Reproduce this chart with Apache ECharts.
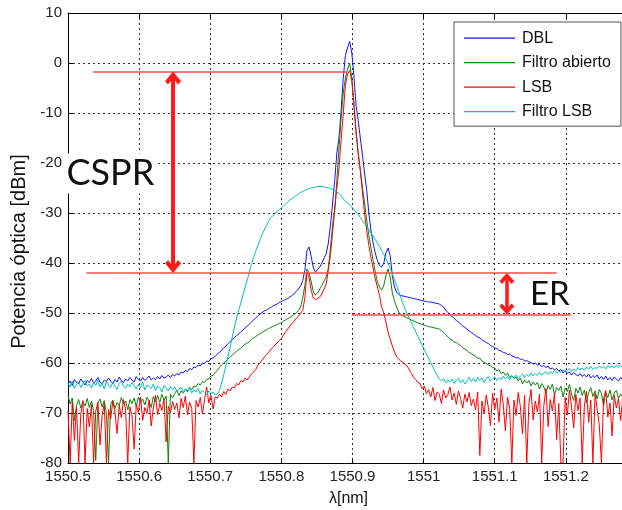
<!DOCTYPE html>
<html><head><meta charset="utf-8">
<script src="https://cdn.jsdelivr.net/npm/echarts/dist/echarts.min.js"></script>
<style>html,body{margin:0;padding:0;background:#fff}#c{width:622px;height:510px}</style>
</head><body><div id="c"></div><script>
// Sampling grid of the optical spectrum analyser trace (nm)
const lambdaStart = 1550.5;
const lambdaStep = 0.003;
const xTickMin = 1550.5, xTickMax = 1551.3, xTickStep = 0.1;
const yTickMin = -80, yTickMax = 10, yTickStep = 10;
const seriesNames = ['DBL', 'Filtro abierto', 'LSB', 'Filtro LSB'];

const dbl = [
-64.2,-63.6,-64.5,-63.3,-63.9,-64.1,-63.2,-63.8,-64.4,-63.5,
-63.9,-63.1,-64.0,-63.6,-62.9,-63.8,-64.2,-63.4,-63.7,-63.0,
-63.6,-64.1,-63.3,-63.8,-62.8,-63.5,-63.9,-63.2,-63.6,-62.9,
-63.4,-63.8,-62.7,-63.3,-63.6,-62.9,-63.5,-63.1,-62.6,-63.4,
-63.0,-63.3,-62.7,-63.2,-62.5,-63.0,-62.8,-62.4,-62.9,-62.3,
-62.6,-62.1,-62.4,-61.8,-62.0,-61.5,-61.7,-61.1,-61.3,-60.8,
-60.9,-60.4,-60.6,-60.0,-60.1,-59.6,-59.7,-59.1,-59.0,-58.6,
-58.2,-57.9,-57.4,-57.0,-56.6,-56.1,-55.7,-55.3,-54.9,-54.5,
-54.2,-53.8,-53.4,-53.0,-52.6,-52.2,-51.8,-51.4,-51.0,-50.6,
-50.2,-49.9,-49.6,-49.4,-49.1,-48.9,-48.6,-48.4,-48.2,-47.9,
-47.7,-47.5,-47.3,-47.1,-46.8,-46.5,-46.1,-45.7,-45.2,-44.6,
-43.5,-41.5,-37.5,-36.8,-38.8,-41.0,-41.8,-41.3,-40.8,-40.0,
-39.0,-38.2,-36.0,-32.5,-28.0,-23.5,-18.0,-15.0,-9.5,-3.0,
1.5,3.0,4.3,2.0,-2.5,-8.5,-11.5,-15.0,-18.5,-22.0,
-25.5,-30.0,-33.5,-36.0,-38.0,-39.5,-40.5,-40.8,-40.0,-38.0,
-37.0,-38.5,-42.5,-44.8,-45.8,-46.3,-46.5,-46.6,-46.7,-46.8,
-46.9,-47.0,-47.1,-47.2,-47.3,-47.4,-47.5,-47.6,-47.7,-47.8,
-47.8,-47.9,-48.0,-48.1,-48.2,-48.5,-48.8,-49.4,-49.9,-50.3,
-50.7,-51.1,-51.5,-51.8,-52.2,-52.6,-52.9,-53.2,-53.6,-53.9,
-54.2,-54.5,-54.8,-55.0,-55.4,-55.6,-55.9,-56.1,-56.5,-56.7,
-57.0,-57.1,-57.5,-57.6,-57.9,-58.0,-58.3,-58.2,-58.6,-58.7,
-59.0,-58.9,-59.3,-59.2,-59.6,-59.5,-59.8,-59.9,-60.2,-60.0,
-60.4,-60.3,-60.7,-60.5,-60.9,-60.6,-61.2,-61.0,-61.4,-61.1,
-61.6,-61.3,-62.0,-61.5,-62.1,-61.8,-62.4,-61.9,-62.3,-62.6,
-62.1,-62.7,-62.3,-62.8,-62.2,-63.0,-62.5,-62.9,-62.4,-63.2,
-62.7,-63.3,-62.6,-63.4,-62.9,-63.5,-62.8,-63.2,-63.6,-62.9,-63.4
];

const filtroAbierto = [
-66.5,-68.2,-67.0,-71.5,-68.5,-67.3,-69.0,-67.8,-68.6,-67.1,
-68.9,-67.6,-69.5,-79.5,-68.0,-67.2,-68.8,-67.5,-70.2,-80.0,
-68.3,-67.4,-69.1,-67.9,-68.5,-66.9,-68.2,-67.6,-69.4,-67.3,
-68.1,-67.0,-68.7,-66.8,-67.9,-67.2,-68.4,-66.9,-67.6,-68.9,
-66.7,-67.8,-66.5,-67.9,-66.3,-67.4,-66.6,-80.0,-66.2,-67.0,
-66.1,-65.4,-66.5,-65.6,-66.0,-65.2,-65.8,-64.9,-65.3,-64.6,
-64.8,-64.1,-64.4,-63.7,-63.9,-63.3,-63.2,-62.6,-62.5,-61.9,
-61.5,-60.9,-60.4,-60.0,-59.6,-59.2,-58.8,-58.4,-58.1,-57.6,
-57.3,-57.0,-56.6,-56.3,-56.0,-55.7,-55.3,-55.0,-54.7,-54.4,
-54.1,-53.9,-53.6,-53.4,-53.1,-52.9,-52.7,-52.5,-52.3,-52.1,
-51.9,-51.6,-51.4,-51.1,-50.9,-50.6,-50.3,-50.0,-49.5,-48.8,
-47.0,-44.5,-41.2,-42.0,-43.8,-45.8,-46.4,-46.0,-45.2,-44.5,
-43.6,-42.8,-41.0,-38.5,-34.0,-29.5,-23.5,-17.0,-11.0,-6.0,
-3.0,-1.2,0.0,-3.0,-8.0,-13.5,-18.1,-21.5,-24.8,-28.0,
-31.5,-34.5,-37.0,-39.5,-41.8,-43.8,-44.8,-45.4,-44.5,-42.5,
-41.2,-42.8,-46.0,-47.6,-48.8,-49.8,-50.3,-50.6,-50.8,-51.0,
-51.2,-51.4,-51.6,-51.8,-52.0,-52.1,-52.3,-52.4,-52.6,-52.7,
-52.8,-52.9,-53.0,-53.1,-53.2,-53.5,-53.9,-54.3,-54.8,-55.2,
-55.4,-55.8,-55.9,-56.3,-56.5,-56.9,-57.2,-57.5,-57.9,-58.1,
-58.4,-58.6,-59.1,-59.0,-59.6,-59.8,-60.1,-60.4,-60.6,-60.9,
-61.0,-61.6,-61.3,-62.1,-61.8,-62.5,-62.0,-62.9,-62.6,-63.1,
-62.8,-63.6,-63.0,-64.2,-63.4,-64.0,-63.5,-64.6,-63.8,-64.4,
-63.9,-65.2,-64.1,-64.8,-66.0,-64.5,-65.3,-64.2,-66.4,-64.9,
-65.5,-64.6,-66.8,-65.0,-65.7,-64.3,-66.2,-67.5,-65.1,-66.0,
-64.8,-66.5,-65.4,-68.0,-65.9,-64.9,-66.7,-65.6,-67.2,-65.3,
-66.1,-68.6,-65.8,-66.9,-65.4,-67.4,-66.0,-65.5,-67.0,-66.2,-66.8
];

const lsb = [
-69.5,-80.0,-67.8,-75.5,-68.9,-80.0,-70.2,-67.5,-80.0,-69.1,
-72.8,-68.3,-80.0,-69.6,-67.9,-76.4,-70.5,-68.1,-80.0,-69.3,
-71.2,-67.6,-69.8,-74.1,-68.5,-70.9,-67.3,-69.4,-80.0,-68.8,
-70.6,-77.2,-68.2,-69.9,-66.8,-71.5,-68.9,-70.1,-67.4,-72.6,
-69.0,-66.5,-70.3,-68.1,-69.5,-67.2,-75.8,-68.6,-70.0,-67.7,
-69.3,-68.0,-71.0,-67.1,-68.9,-66.6,-70.4,-67.8,-69.1,-80.0,
-67.5,-68.8,-66.9,-70.2,-67.3,-64.8,-68.0,-66.5,-69.2,-66.8,
-67.0,-66.2,-66.8,-65.7,-66.3,-65.2,-65.6,-64.8,-65.0,-64.1,
-64.4,-63.5,-63.8,-63.0,-63.4,-62.8,-62.2,-61.8,-61.3,-60.4,
-60.0,-59.4,-58.9,-58.3,-57.9,-57.4,-56.9,-56.4,-56.0,-55.5,
-55.1,-54.4,-53.8,-53.2,-52.6,-52.1,-51.6,-51.1,-50.6,-50.1,
-49.5,-47.0,-41.8,-43.0,-45.5,-47.0,-47.3,-47.1,-46.8,-46.2,
-45.2,-44.2,-41.5,-37.0,-32.5,-29.0,-25.0,-21.0,-15.5,-10.1,
-4.5,-2.2,-1.5,-3.5,-8.5,-14.0,-18.0,-21.5,-26.0,-30.1,
-33.5,-36.5,-39.0,-41.0,-43.2,-44.8,-46.5,-48.8,-50.0,-51.8,
-53.8,-55.2,-56.6,-57.8,-58.8,-59.2,-59.6,-59.9,-60.3,-60.6,
-61.4,-62.1,-62.9,-63.3,-63.9,-64.1,-65.2,-64.6,-66.1,-65.3,
-66.8,-64.9,-67.5,-65.8,-66.2,-68.1,-65.4,-67.0,-66.3,-64.8,
-67.4,-66.0,-68.3,-65.6,-67.1,-69.0,-66.2,-67.8,-65.9,-68.5,
-67.2,-69.4,-65.8,-78.5,-67.6,-70.2,-66.4,-68.9,-72.5,-66.1,
-69.3,-67.0,-71.8,-65.2,-68.4,-73.6,-66.8,-69.1,-80.0,-67.4,
-70.5,-65.9,-68.7,-74.2,-66.5,-80.0,-68.2,-65.3,-71.4,-67.6,
-69.8,-66.2,-80.0,-68.5,-65.1,-72.7,-67.3,-69.6,-66.0,-75.3,
-68.1,-80.0,-80.0,-66.9,-70.4,-65.4,-68.8,-73.0,-66.3,-69.5,
-67.0,-80.0,-68.6,-65.7,-71.9,-67.4,-80.0,-66.1,-69.2,-72.4,
-80.0,-67.2,-65.5,-70.8,-68.0,-74.6,-66.4,-69.0,-67.1,-71.5,-66.8
];

const filtroLsb = [
-64.0,-64.8,-63.6,-65.1,-64.3,-63.8,-64.9,-64.1,-63.5,-64.6,
-64.2,-65.0,-63.9,-64.5,-63.4,-64.8,-64.0,-65.2,-63.7,-64.4,
-64.9,-63.8,-64.6,-65.3,-64.1,-63.6,-64.7,-65.0,-64.2,-64.8,
-63.9,-64.5,-65.2,-64.3,-64.9,-63.8,-65.4,-64.4,-64.7,-65.1,
-64.2,-65.5,-64.6,-64.9,-65.8,-64.5,-65.0,-65.6,-64.7,-65.3,
-64.8,-65.7,-65.1,-64.9,-65.9,-65.2,-65.6,-64.9,-66.0,-65.3,
-65.8,-65.1,-66.2,-65.5,-65.9,-66.3,-65.6,-66.1,-65.8,-66.4,
-66.2,-65.5,-64.0,-62.3,-60.5,-58.7,-56.8,-54.8,-52.8,-51.0,
-49.4,-48.0,-46.4,-44.9,-43.4,-41.8,-40.3,-38.9,-37.6,-36.5,
-35.3,-34.3,-33.4,-32.5,-31.7,-31.0,-30.6,-30.1,-29.7,-29.3,
-29.0,-28.6,-28.2,-27.8,-27.4,-27.1,-26.8,-26.5,-26.2,-25.9,
-25.7,-25.5,-25.3,-25.1,-25.0,-24.9,-24.8,-24.7,-24.7,-24.7,
-24.8,-24.9,-25.0,-25.1,-25.3,-25.5,-25.8,-26.1,-26.5,-27.2,
-27.6,-28.0,-28.4,-28.8,-29.3,-29.8,-30.3,-30.9,-31.5,-32.1,
-32.7,-33.3,-34.0,-34.6,-35.3,-36.0,-36.7,-37.5,-38.3,-39.2,
-40.1,-41.1,-42.2,-43.3,-44.5,-45.7,-46.9,-48.1,-49.2,-50.2,
-51.1,-52.0,-52.9,-53.8,-54.7,-55.6,-56.4,-57.3,-58.2,-59.0,
-59.9,-60.8,-61.7,-62.5,-63.2,-63.6,-63.1,-64.0,-63.4,-63.8,
-63.2,-64.1,-63.5,-63.0,-63.9,-63.3,-64.2,-63.6,-62.9,-63.7,
-63.1,-63.8,-62.8,-63.5,-63.0,-63.9,-63.2,-62.7,-63.6,-63.1,
-62.8,-63.5,-62.9,-63.3,-62.6,-63.2,-62.7,-63.4,-62.5,-63.0,
-62.4,-63.1,-62.6,-62.2,-62.9,-62.3,-62.7,-62.0,-62.6,-62.1,
-62.5,-61.9,-62.4,-62.0,-61.7,-62.3,-61.8,-62.1,-61.5,-62.0,
-61.6,-61.9,-61.3,-61.8,-61.5,-61.1,-61.7,-61.2,-61.6,-60.9,
-61.4,-61.0,-61.5,-60.8,-61.2,-60.7,-61.3,-60.9,-61.1,-60.6,
-61.0,-60.7,-61.2,-60.5,-60.9,-60.6,-61.0,-60.4,-60.8,-60.5,-60.9
];

// Annotations (data coordinates: wavelength nm, power dBm)
const refLevelCarrier = -1.7, refLevelSideband = -42, refLevelER = -50.3;
const refLines = [
  [1550.535, 1550.892, refLevelCarrier],
  [1550.526, 1551.187, refLevelSideband],
  [1550.900, 1551.207, refLevelER]
];
const cspr = { x: 1550.6477, top: refLevelCarrier, bottom: refLevelSideband };
const er = { x: 1551.117, top: refLevelSideband, bottom: refLevelER };
const textNotes = [
  { text: 'CSPR', x: 1550.5610, y: -22.1 },
  { text: 'ER', x: 1551.1789, y: -46.2 }
];

const colors = ['#1212ff', '#0b840b', '#ff0000', '#00bfbf'];
const chevron = 'path://M8,0 L16,9 L13,12 L8,6 L3,12 L0,9 Z';

function toPairs(arr) {
  return arr.map((v, i) => [+(lambdaStart + i * lambdaStep).toFixed(3), v]);
}

const chart = echarts.init(document.getElementById('c'), null, { renderer: 'canvas' });
const labelFont = 'Liberation Sans, Arial, sans-serif';
const gridLine = { show: true, lineStyle: { color: '#333', type: [2, 3], width: 1 } };

const arrowLine = (a, w, head, off) => [
  { coord: [a.x, a.top - off], symbol: chevron, symbolSize: head, lineStyle: { color: '#ff1a1a', width: w, type: 'solid' } },
  { coord: [a.x, a.bottom + off], symbol: chevron, symbolSize: head }
];

const series = [dbl, filtroAbierto, lsb, filtroLsb].map((arr, k) => ({
  name: seriesNames[k], type: 'line', data: toPairs(arr), symbol: 'none', showSymbol: false,
  lineStyle: { width: 1, color: colors[k] }, itemStyle: { color: colors[k] },
  animation: false, silent: true
}));

series[3].markLine = {
  silent: true, animation: false, symbol: 'none', label: { show: false },
  data: refLines.map(r => [
    { coord: [r[0], r[2]], lineStyle: { color: '#ff4a4a', width: 1.5, type: 'solid' } },
    { coord: [r[1], r[2]] }
  ]).concat([arrowLine(cspr, 4, [16, 13], 1.3), arrowLine(er, 3.5, [15, 11], 1.1)])
};
series[3].markPoint = {
  silent: true, animation: false, symbol: 'rect', symbolSize: 1, itemStyle: { color: 'rgba(0,0,0,0)' },
  data: textNotes.map((t, i) => ({
    coord: [t.x, t.y], value: t.text,
    label: {
      show: true, position: 'inside', formatter: t.text, color: '#111',
      fontFamily: 'Lato, Open Sans, sans-serif', fontSize: i === 0 ? 36 : 33,
      backgroundColor: '#fff', padding: [2, 2, 2, 0]
    }
  }))
};

chart.setOption({
  animation: false,
  backgroundColor: '#fff',
  grid: { left: 68, top: 13, width: 569, height: 450, containLabel: false, outerBoundsMode: 'none' },
  legend: {
    data: seriesNames, orient: 'vertical', left: 454, top: 22, icon: 'rect',
    itemWidth: 51, itemHeight: 1.3, itemGap: 8.5, padding: [8.2, 10, 6.5, 10],
    borderColor: '#555', borderWidth: 1, backgroundColor: '#fff', selectedMode: false,
    textStyle: { fontSize: 16, lineHeight: 16, fontFamily: labelFont, color: '#111', padding: [0, 0, 0, 2] }
  },
  xAxis: [{
    type: 'value', min: xTickMin, max: xTickMax, interval: xTickStep,
    name: 'λ[nm]', nameLocation: 'middle', nameGap: 28,
    nameTextStyle: { fontSize: 16, fontFamily: labelFont, color: '#111', padding: [0, 8, 0, 0] },
    axisLine: { show: true, onZero: false, lineStyle: { color: '#000', width: 1 } },
    axisTick: { show: true, inside: true, length: 5, lineStyle: { color: '#000' } },
    axisLabel: {
      fontSize: 15, fontFamily: labelFont, color: '#222', margin: 6,
      formatter: v => (v > 1551.25 ? '' : String(parseFloat(v.toFixed(1))))
    },
    splitLine: gridLine
  }, {
    type: 'value', position: 'top', min: xTickMin, max: xTickMax, interval: xTickStep,
    axisLine: { show: true, onZero: false, lineStyle: { color: '#000', width: 1 } },
    axisTick: { show: true, inside: true, length: 5, lineStyle: { color: '#000' } },
    axisLabel: { show: false }, splitLine: { show: false }
  }],
  yAxis: {
    type: 'value', min: yTickMin, max: yTickMax, interval: yTickStep,
    name: 'Potencia óptica [dBm]', nameLocation: 'middle', nameGap: 25, nameRotate: 90,
    nameTextStyle: { fontSize: 20, fontFamily: labelFont, color: '#111', padding: [0, 27, 0, 0] },
    axisLine: { show: true, onZero: false, lineStyle: { color: '#000', width: 1 } },
    axisTick: { show: true, inside: true, length: 5, lineStyle: { color: '#000' } },
    axisLabel: { fontSize: 15, fontFamily: labelFont, color: '#222', margin: 6 },
    splitLine: gridLine
  },
  series: series
});
</script></body></html>
